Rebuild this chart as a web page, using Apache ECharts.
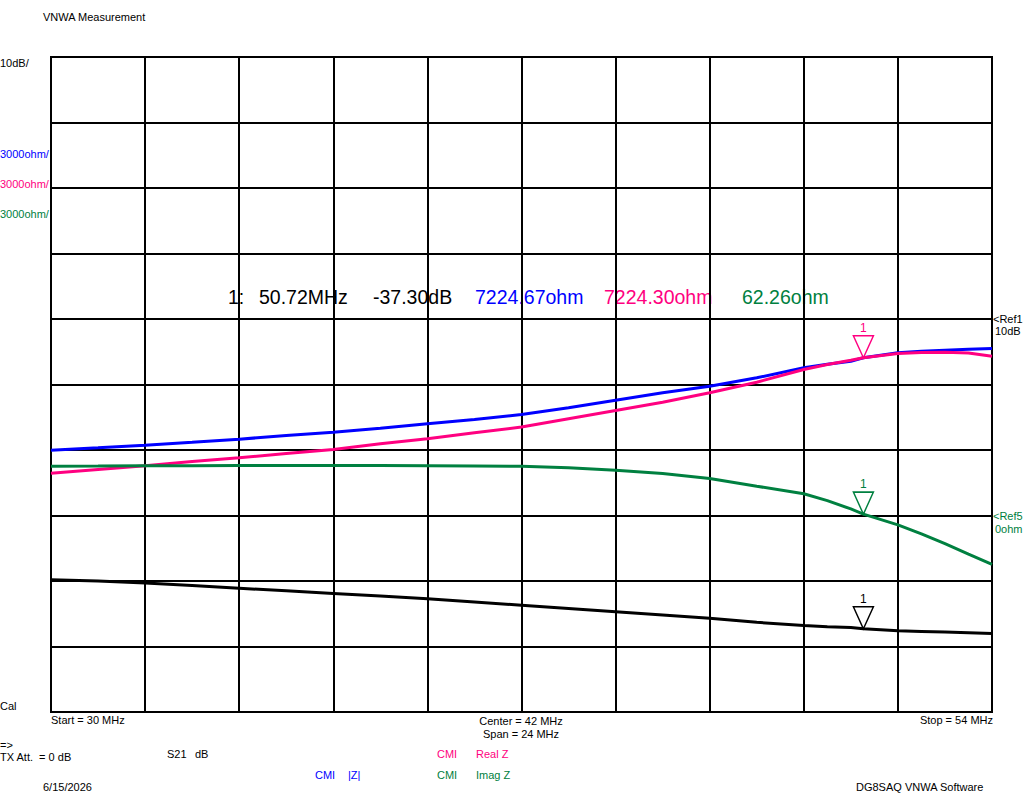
<!DOCTYPE html>
<html>
<head>
<meta charset="utf-8">
<title>VNWA Measurement</title>
<script src="https://cdn.jsdelivr.net/npm/echarts@6/dist/echarts.min.js"></script>
<style>
  html, body { margin: 0; padding: 0; background: #fff; }
  #chart { width: 1024px; height: 802px; }
</style>
</head>
<body>
<div id="chart"></div>
<script>
// sweep, MHz
var freqs = [30, 31.2, 32.4, 33.6, 34.8, 36, 37.2, 38.4, 39.6, 40.8, 42, 43.2, 44.4, 45.6, 46.8, 48, 49.2, 49.8, 50.4, 50.72, 51.6, 52.2, 52.8, 53.4, 54];
// traces
var s21dB = [-29.8, -30.0, -30.3, -30.7, -31.1, -31.5, -31.9, -32.3, -32.7, -33.2, -33.7, -34.2, -34.7, -35.2, -35.7, -36.3, -36.8, -37.0, -37.1, -37.3, -37.6, -37.7, -37.8, -37.9, -38.0];
var absZ = [2991, 3100, 3220, 3357, 3495, 3664, 3815, 3999, 4200, 4397, 4626, 4933, 5281, 5620, 5922, 6307, 6765, 6930, 7067, 7224.67, 7452, 7520, 7571, 7610, 7649];
var realZ = [1937, 2107, 2276, 2473, 2643, 2840, 3023, 3284, 3513, 3788, 4053, 4429, 4809, 5189, 5620, 6105, 6687, 6920, 7113, 7224.3, 7420, 7470, 7480, 7440, 7296];
var imagZ = [2258, 2265, 2276, 2280, 2285, 2290, 2290, 2285, 2280, 2270, 2258, 2184, 2075, 1923, 1695, 1342, 994, 680, 300, 62.26, -430, -840, -1290, -1770, -2244];

// marker 1
var mkFreq = 50.72;
var mkVals = { s21: -37.30, abs: 7224.67, real: 7224.30, imag: 62.26 };

var BLUE = '#0000ff', PINK = '#ff0080', GREEN = '#008040', BLACK = '#000000';
var FONT = 'Liberation Sans, Arial, sans-serif';

function pairs(ys) {
    return freqs.map(function (f, i) { return [f, ys[i]]; });
}

function marker(val, color) {
    return {
        symbol: 'triangle',
        symbolRotate: 180,
        symbolSize: [20, 22],
        symbolOffset: [0, -11],
        itemStyle: { color: 'rgba(255,255,255,0)', borderColor: color, borderWidth: 1.5 },
        label: { show: true, position: 'top', distance: 1, formatter: '1', color: color, fontSize: 12, fontFamily: FONT },
        data: [{ coord: [mkFreq, val] }]
    };
}

function txt(x, y, s, color, size, align) {
    return {
        type: 'text', x: x, y: y,
        style: { text: s, fill: color || BLACK, font: (size || 11) + 'px ' + FONT,
                 textAlign: align || 'left', textVerticalAlign: 'middle' }
    };
}

var myChart = echarts.init(document.getElementById('chart'), null, { renderer: 'svg' });

var option = {
    backgroundColor: '#fff',
    animation: false,
    grid: { left: 51, top: 57, width: 941, height: 655, show: true, borderColor: BLACK, borderWidth: 2 },
    xAxis: {
        type: 'value', min: 30, max: 54, interval: 2.4,
        axisLine: { show: false }, axisTick: { show: false }, axisLabel: { show: false },
        splitLine: { show: true, lineStyle: { color: BLACK, width: 2 } }
    },
    yAxis: [{
        type: 'value', min: -50, max: 50, interval: 10,
        axisLine: { show: false }, axisTick: { show: false }, axisLabel: { show: false },
        splitLine: { show: true, lineStyle: { color: BLACK, width: 2 } }
    }, {
        type: 'value', min: -9000, max: 21000, interval: 3000,
        axisLine: { show: false }, axisTick: { show: false }, axisLabel: { show: false },
        splitLine: { show: false }
    }],
    series: [{
        name: '|Z|', type: 'line', yAxisIndex: 1, data: pairs(absZ), showSymbol: false,
        lineStyle: { color: BLUE, width: 3 }, itemStyle: { color: BLUE }
    }, {
        name: 'Real Z', type: 'line', yAxisIndex: 1, data: pairs(realZ), showSymbol: false,
        lineStyle: { color: PINK, width: 3 }, itemStyle: { color: PINK },
        markPoint: marker(mkVals.real, PINK)
    }, {
        name: 'Imag Z', type: 'line', yAxisIndex: 1, data: pairs(imagZ), showSymbol: false,
        lineStyle: { color: GREEN, width: 3 }, itemStyle: { color: GREEN },
        markPoint: marker(mkVals.imag, GREEN)
    }, {
        name: 'S21', type: 'line', yAxisIndex: 0, data: pairs(s21dB), showSymbol: false,
        lineStyle: { color: BLACK, width: 3 }, itemStyle: { color: BLACK },
        markPoint: marker(mkVals.s21, BLACK)
    }],
    graphic: [
        txt(43, 17, 'VNWA Measurement'),
        txt(0, 63, '10dB/'),
        txt(0, 154, '3000ohm/', BLUE),
        txt(0, 184, '3000ohm/', PINK),
        txt(0, 214, '3000ohm/', GREEN),
        txt(0, 706, 'Cal'),
        txt(51, 720, 'Start = 30 MHz'),
        txt(521, 721, 'Center = 42 MHz', BLACK, 11, 'center'),
        txt(521, 734, 'Span = 24 MHz', BLACK, 11, 'center'),
        txt(993, 720, 'Stop = 54 MHz', BLACK, 11, 'right'),
        txt(0, 745, '=>'),
        txt(0, 757, 'TX Att.  = 0 dB'),
        txt(167, 754, 'S21'),
        txt(195, 754, 'dB'),
        txt(437, 754, 'CMI', PINK),
        txt(476, 754, 'Real Z', PINK),
        txt(315, 775, 'CMI', BLUE),
        txt(348, 775, '|Z|', BLUE),
        txt(437, 775, 'CMI', GREEN),
        txt(476, 775, 'Imag Z', GREEN),
        txt(43, 787, '6/15/2026'),
        txt(856, 787, 'DG8SAQ VNWA Software'),
        txt(993, 319, '<Ref1'),
        txt(995, 331, '10dB'),
        txt(993, 516, '<Ref5', GREEN),
        txt(995, 529, '0ohm', GREEN),
        txt(228, 297, '1:', BLACK, 19.5),
        txt(259, 297, mkFreq.toFixed(2) + 'MHz', BLACK, 19.5),
        txt(373, 297, mkVals.s21.toFixed(2) + 'dB', BLACK, 19.5),
        txt(475, 297, mkVals.abs.toFixed(2) + 'ohm', BLUE, 19.5),
        txt(604, 297, mkVals.real.toFixed(2) + 'ohm', PINK, 19.5),
        txt(742, 297, mkVals.imag.toFixed(2) + 'ohm', GREEN, 19.5)
    ]
};

myChart.setOption(option);
</script>
</body>
</html>
